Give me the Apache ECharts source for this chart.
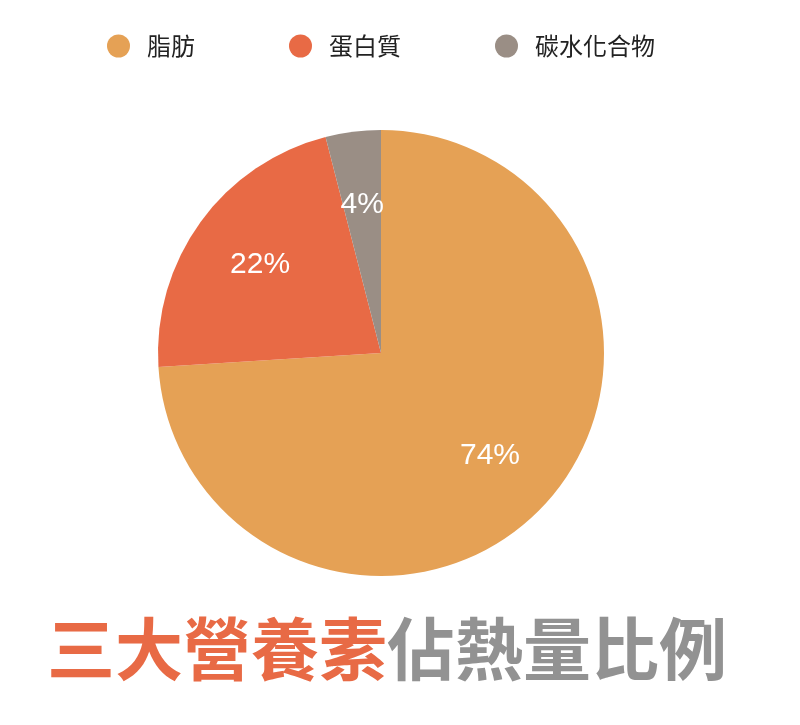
<!DOCTYPE html>
<html><head><meta charset="utf-8">
<script src="https://cdn.jsdelivr.net/npm/echarts@6/dist/echarts.min.js"></script>
<style>html,body{margin:0;padding:0;background:#fff}#c{width:800px;height:725px}</style>
</head><body><div id="c"></div>
<script>
const categories = ['脂肪', '蛋白質', '碳水化合物'];
const values = [74, 22, 4];
const colors = ['#E5A155', '#E86A45', '#9A8E85'];
const titleRed = '三大營養素';
const titleGray = '佔熱量比例';

const data = categories.map((n, i) => ({ name: n, value: values[i], itemStyle: { color: colors[i] } }));
const labelData = categories.map((n, i) => ({ name: n, value: values[i] }));
const font = '"Noto Sans CJK TC", "Noto Sans", sans-serif';
const chart = echarts.init(document.getElementById('c'));
chart.setOption({
  backgroundColor: '#fff',
  animation: false,
  title: {
    text: '{a|' + titleRed + '}{b|' + titleGray + '}',
    left: 42,
    top: 610,
    textStyle: {
      rich: {
        a: { color: '#E86A45', fontSize: 68, fontWeight: 'bold', fontFamily: font },
        b: { color: '#929292', fontSize: 68, fontWeight: 'bold', fontFamily: font }
      }
    }
  },
  legend: {
    data: categories,
    left: 102,
    top: 29,
    icon: 'circle',
    itemWidth: 23,
    itemHeight: 23,
    itemGap: 94,
    textStyle: { fontSize: 24, color: '#222', fontFamily: font, padding: [0, 0, 0, 12] }
  },
  series: [
    {
      type: 'pie',
      center: [381, 353],
      radius: [0, 223],
      startAngle: 90,
      clockwise: true,
      label: { show: false },
      labelLine: { show: false },
      itemStyle: { borderWidth: 0 },
      emphasis: { disabled: true },
      data: data
    },
    {
      type: 'pie',
      silent: true,
      center: [381, 353],
      radius: [70, 223],
      startAngle: 90,
      clockwise: true,
      itemStyle: { color: 'rgba(0,0,0,0)', borderWidth: 0 },
      label: {
        show: true,
        position: 'inside',
        formatter: '{c}%',
        color: '#fff',
        fontSize: 30,
        fontFamily: '"Liberation Sans", "DejaVu Sans", sans-serif',
        fontWeight: 'normal'
      },
      labelLine: { show: false },
      emphasis: { disabled: true },
      data: labelData
    }
  ]
});
</script></body></html>
